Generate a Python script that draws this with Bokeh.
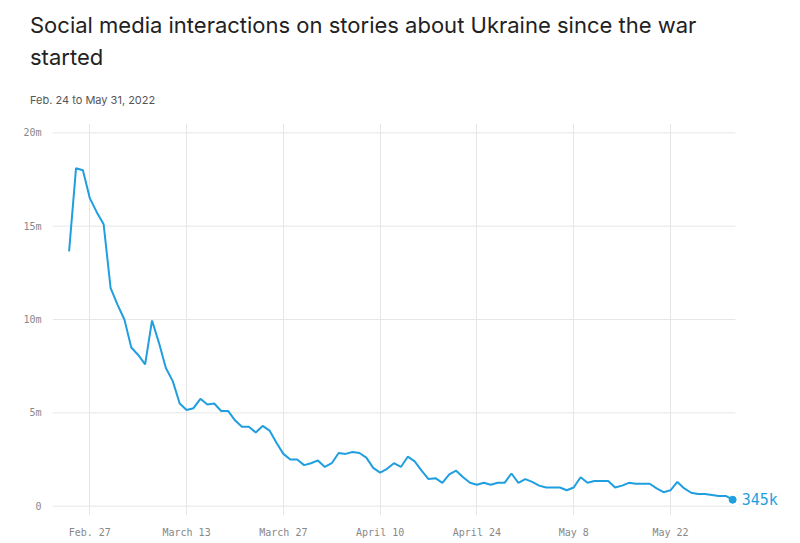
from bokeh.plotting import figure
from bokeh.models import Label, Range1d, FixedTicker, Div
from bokeh.layouts import column
from bokeh.embed import file_html
from bokeh.resources import INLINE

days = list(range(97))
values_m = [13.65, 18.1, 18.0, 16.5, 15.75, 15.1, 11.7, 10.8, 10.0, 8.5, 8.1, 7.6, 9.95, 8.75, 7.4, 6.7,
            5.5, 5.15, 5.25, 5.75, 5.45, 5.5, 5.1, 5.1, 4.6, 4.25, 4.25, 3.95, 4.3, 4.05, 3.4, 2.8,
            2.5, 2.5, 2.2, 2.3, 2.45, 2.1, 2.3, 2.85, 2.8, 2.9, 2.85, 2.6, 2.05, 1.8, 2.0, 2.3,
            2.1, 2.65, 2.4, 1.9, 1.45, 1.5, 1.25, 1.7, 1.9, 1.55, 1.25, 1.15, 1.25, 1.15, 1.25, 1.25,
            1.75, 1.25, 1.45, 1.3, 1.1, 1.0, 1.0, 1.0, 0.85, 1.0, 1.55, 1.25, 1.35, 1.35, 1.35, 1.0,
            1.1, 1.25, 1.2, 1.2, 1.2, 0.95, 0.75, 0.85, 1.3, 0.95, 0.72, 0.65, 0.65, 0.6, 0.55, 0.55, 0.345]
x_ticks = [3, 17, 31, 45, 59, 73, 87]
x_labels = ["Feb. 27", "March 13", "March 27", "April 10", "April 24", "May 8", "May 22"]
y_ticks = [0, 5, 10, 15, 20]
y_labels = ["0", "5m", "10m", "15m", "20m"]

blue = "#1f9ee0"
grid_color = "#e6e6e6"
x0, x1 = -2.4, 96.4
p = figure(width=784, height=433, output_backend="svg", toolbar_location=None,
           x_range=Range1d(x0, 103.5), y_range=Range1d(-0.5, 20.5),
           min_border_left=52, min_border_right=0, min_border_bottom=32, min_border_top=9)
p.outline_line_color = None
p.ygrid.grid_line_color = None
p.xgrid.grid_line_color = grid_color
p.segment(x0=[x0] * len(y_ticks), x1=[x1] * len(y_ticks), y0=y_ticks, y1=y_ticks,
          line_color=grid_color, line_width=1)
p.line(days, values_m, line_color=blue, line_width=2)
p.scatter([days[-1]], [values_m[-1]], size=7, color=blue)
p.add_layout(Label(x=days[-1], y=values_m[-1], x_offset=9, text="345k", text_color=blue,
                   text_font="DejaVu Sans Mono", text_font_size="15px", text_baseline="middle"))

for ax in (p.xaxis[0], p.yaxis[0]):
    ax.axis_line_color = None
    ax.major_tick_line_color = None
    ax.minor_tick_line_color = None
    ax.major_label_text_font = "DejaVu Sans Mono"
    ax.major_label_text_font_size = "10px"
    ax.major_label_text_color = "#888888"
p.xaxis.ticker = FixedTicker(ticks=x_ticks)
p.xaxis.major_label_overrides = dict(zip(x_ticks, x_labels))
p.yaxis.ticker = FixedTicker(ticks=y_ticks)
p.yaxis.major_label_overrides = dict(zip(y_ticks, y_labels))

title = Div(text="Social media interactions on stories about Ukraine since the war started",
            width=760, height=72,
            styles={"font-family": "Inter", "font-size": "22px", "line-height": "32px",
                    "color": "#222222", "padding-left": "25px", "padding-top": "4px"})
sub = Div(text="Feb. 24 to May 31, 2022", width=760, height=22,
          styles={"font-family": "Inter", "font-size": "11px", "color": "#555555",
                  "padding-left": "25px", "padding-top": "6px"})

open("out.html", "w").write(file_html(column(title, sub, p, spacing=0), INLINE))
